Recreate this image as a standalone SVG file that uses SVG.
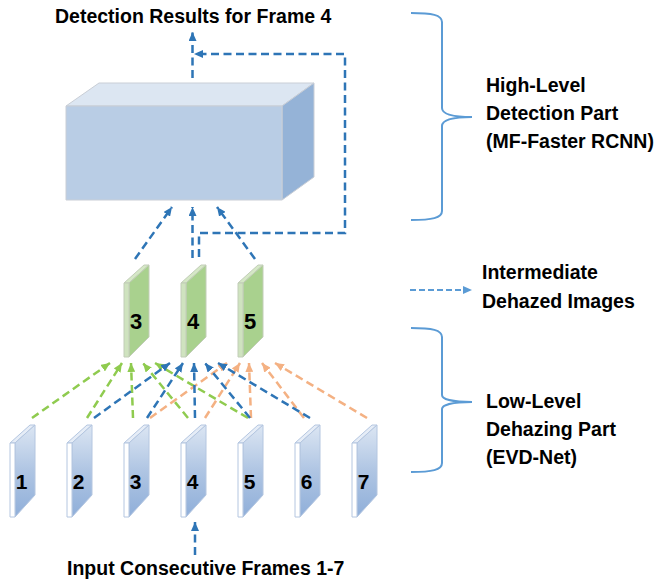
<svg xmlns="http://www.w3.org/2000/svg" width="658" height="583" viewBox="0 0 658 583">
<style>
.t{font-family:"Liberation Sans",Arial,sans-serif;font-weight:bold;fill:#000}
.lbl{font-size:19.5px}
.num{font-size:21px;text-anchor:middle}
.gnum{font-size:22px;text-anchor:middle}
.c{fill:none;stroke-width:2.5;stroke-dasharray:8 4.5}
.b{stroke:#2E75B6}
.g{stroke:#8FCB4F}
.o{stroke:#F4B183}
.brace{fill:none;stroke:#5B9BD5;stroke-width:2}
.edge{stroke-width:1;stroke-linejoin:round}
</style>
<defs>
<linearGradient id="bg" x1="0" y1="0" x2="0" y2="1">
<stop offset="0" stop-color="#DCE6F3"/>
<stop offset="0.5" stop-color="#AFC5E3"/>
<stop offset="1" stop-color="#8FAED9"/>
</linearGradient>
<marker id="ab" viewBox="0 0 9 8" refX="9" refY="4" markerWidth="9" markerHeight="8" markerUnits="userSpaceOnUse" orient="auto"><path d="M0,0 L9,4 L0,8 z" fill="#2E75B6"/></marker>
<marker id="ag" viewBox="0 0 9 8" refX="9" refY="4" markerWidth="9" markerHeight="8" markerUnits="userSpaceOnUse" orient="auto"><path d="M0,0 L9,4 L0,8 z" fill="#8FCB4F"/></marker>
<marker id="ao" viewBox="0 0 9 8" refX="9" refY="4" markerWidth="9" markerHeight="8" markerUnits="userSpaceOnUse" orient="auto"><path d="M0,0 L9,4 L0,8 z" fill="#F4B183"/></marker>
<marker id="al" viewBox="0 0 9 8" refX="9" refY="4" markerWidth="9" markerHeight="8" markerUnits="userSpaceOnUse" orient="auto"><path d="M0,0 L9,4 L0,8 z" fill="#5B9BD5"/></marker>
<g id="bf">
<polygon class="edge" points="0,18 20,0 25,0 5,18" fill="#E6EDF7" stroke="#B4C6E0"/>
<polygon class="edge" points="5,18 25,0 25,70 5,92" fill="url(#bg)" stroke="#B4C6E0"/>
<rect class="edge" x="0" y="18" width="5" height="74" fill="#FFFFFF" stroke="#B4C6E0"/>
</g>
<g id="gf">
<polygon class="edge" points="0,18 20,0 25,0 5,18" fill="#D5E8C6" stroke="#C2CDB8"/>
<polygon class="edge" points="5,18 25,0 25,72 5,92" fill="#A9D18E" stroke="#C2CDB8"/>
<rect class="edge" x="0" y="18" width="5" height="74" fill="#CFE3BF" stroke="#C2CDB8"/>
</g>
</defs>
<rect width="658" height="583" fill="#FFFFFF"/>

<g id="detector">
<polygon class="edge" points="66,106 99,83 314,83 282,106" fill="#DCE6F2" stroke="#C9CED6"/>
<polygon class="edge" points="282,106 314,83 314,177 282,200" fill="#95B3D7" stroke="#C9CED6"/>
<rect class="edge" x="66" y="106" width="216" height="94" fill="#B9CDE5" stroke="#C9CED6"/>
</g>

<g id="frame1"><use href="#bf" x="10" y="425"/><text class="t num" x="21.5" y="489">1</text></g>
<g id="frame2"><use href="#bf" x="67" y="425"/><text class="t num" x="78.5" y="489">2</text></g>
<g id="frame3"><use href="#bf" x="124" y="425"/><text class="t num" x="135.5" y="489">3</text></g>
<g id="frame4"><use href="#bf" x="181" y="425"/><text class="t num" x="192.5" y="489">4</text></g>
<g id="frame5"><use href="#bf" x="238" y="425"/><text class="t num" x="249.5" y="489">5</text></g>
<g id="frame6"><use href="#bf" x="295" y="425"/><text class="t num" x="306.5" y="489">6</text></g>
<g id="frame7"><use href="#bf" x="352" y="425"/><text class="t num" x="363.5" y="489">7</text></g>

<g id="dehazed3"><use href="#gf" x="124" y="265"/><text class="t gnum" x="136" y="329">3</text></g>
<g id="dehazed4"><use href="#gf" x="181" y="265"/><text class="t gnum" x="193" y="329">4</text></g>
<g id="dehazed5"><use href="#gf" x="238" y="265"/><text class="t gnum" x="250" y="329">5</text></g>

<g id="connectors">
<line class="c g" x1="32" y1="418" x2="110" y2="363" marker-end="url(#ag)"/>
<line class="c g" x1="87" y1="418" x2="122" y2="363" marker-end="url(#ag)"/>
<line class="c g" x1="133" y1="418" x2="131" y2="363" marker-end="url(#ag)"/>
<line class="c g" x1="188" y1="418" x2="143" y2="363" marker-end="url(#ag)"/>
<line class="c g" x1="248" y1="418" x2="155" y2="363" marker-end="url(#ag)"/>
<line class="c o" x1="150" y1="418" x2="227" y2="363" marker-end="url(#ao)"/>
<line class="c o" x1="205" y1="418" x2="240" y2="363" marker-end="url(#ao)"/>
<line class="c o" x1="251" y1="418" x2="249" y2="363" marker-end="url(#ao)"/>
<line class="c o" x1="304" y1="418" x2="262" y2="363" marker-end="url(#ao)"/>
<line class="c o" x1="367" y1="418" x2="275" y2="363" marker-end="url(#ao)"/>
<line class="c b" x1="94" y1="418" x2="170" y2="363" marker-end="url(#ab)"/>
<line class="c b" x1="147" y1="418" x2="183" y2="363" marker-end="url(#ab)"/>
<line class="c b" x1="195" y1="418" x2="194" y2="363" marker-end="url(#ab)"/>
<line class="c b" x1="250" y1="418" x2="205" y2="363" marker-end="url(#ab)"/>
<line class="c b" x1="310" y1="418" x2="218" y2="363" marker-end="url(#ab)"/>
<line class="c b" x1="135" y1="259" x2="172" y2="207" marker-end="url(#ab)"/>
<line class="c b" x1="192.5" y1="258" x2="192.5" y2="207" marker-end="url(#ab)"/>
<line class="c b" x1="255" y1="259" x2="217" y2="207" marker-end="url(#ab)"/>
<path class="c b" d="M199,257 L199,233 L345,233 L345,54 L194,54" marker-end="url(#ab)"/>
<line class="c b" x1="192.5" y1="78" x2="192.5" y2="32" marker-end="url(#ab)"/>
<line class="c b" x1="195" y1="555" x2="195" y2="522" marker-end="url(#ab)"/>
<line x1="410" y1="290" x2="472" y2="290" fill="none" stroke="#5B9BD5" stroke-width="2" stroke-dasharray="6 3" marker-end="url(#al)"/>
</g>

<g id="brace-high">
<path class="brace" d="M411,13 C432,13 442,15 442,22 L442,108 C442,114 452,117 472,117 C452,117 442,120 442,126 L442,211 C442,218 432,220 411,220"/>
</g>
<g id="brace-low">
<path class="brace" d="M411,328 C432,328 442,330 442,337 L442,395 C442,399 452,402 472,402 C452,402 442,405 442,409 L442,463 C442,470 432,472 411,472"/>
</g>

<g id="labels">
<text class="t lbl" x="55" y="23">Detection Results for Frame 4</text>
<text class="t lbl" x="67" y="575">Input Consecutive Frames 1-7</text>
<text class="t lbl" x="486" y="92">High-Level</text>
<text class="t lbl" x="486" y="120">Detection Part</text>
<text class="t lbl" x="486" y="148">(MF-Faster RCNN)</text>
<text class="t lbl" x="482" y="279">Intermediate</text>
<text class="t lbl" x="482" y="308">Dehazed Images</text>
<text class="t lbl" x="486" y="408">Low-Level</text>
<text class="t lbl" x="486" y="436">Dehazing Part</text>
<text class="t lbl" x="486" y="464">(EVD-Net)</text>
</g>
</svg>
